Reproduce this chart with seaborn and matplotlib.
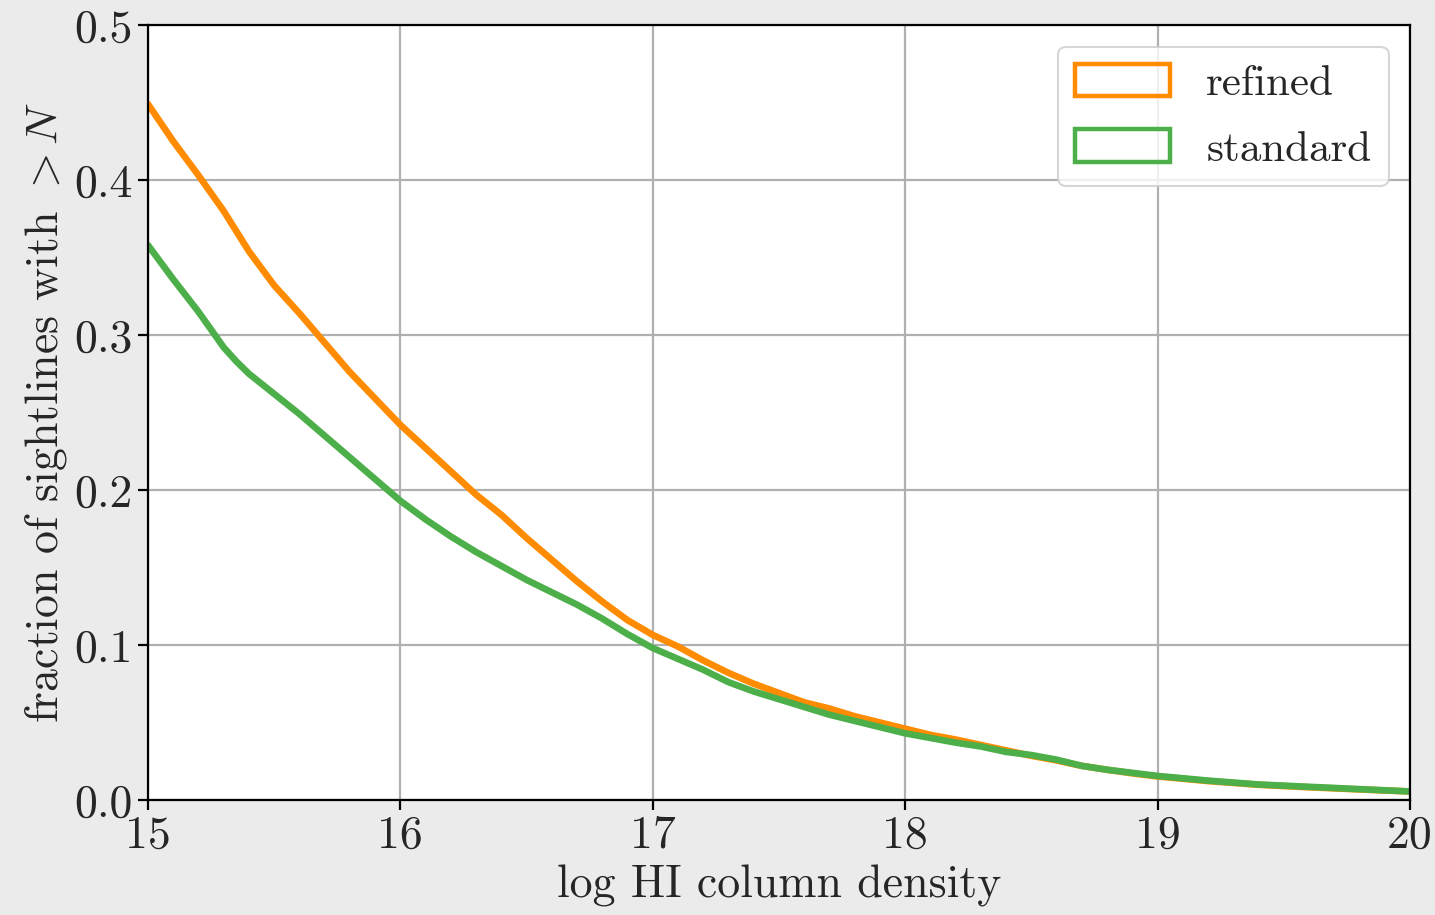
import numpy as np
import pandas as pd
import matplotlib
matplotlib.use("Agg")
import matplotlib.pyplot as plt
from matplotlib.patches import Patch
import seaborn as sns

# ---- data ----
logN = [15.0, 15.1, 15.2, 15.3, 15.35, 15.4, 15.5, 15.6, 15.7, 15.8, 15.9,
        16.0, 16.1, 16.2, 16.3, 16.4, 16.5, 16.6, 16.7, 16.8, 16.9,
        17.0, 17.1, 17.2, 17.3, 17.4, 17.5, 17.6, 17.7, 17.8, 17.9,
        18.0, 18.1, 18.2, 18.3, 18.4, 18.5, 18.6, 18.7, 18.8, 18.9,
        19.0, 19.2, 19.4, 19.6, 19.8, 20.0]
refined = [0.449, 0.425, 0.403, 0.380, 0.367, 0.354, 0.332, 0.314, 0.295, 0.276, 0.259,
           0.242, 0.227, 0.212, 0.197, 0.184, 0.169, 0.155, 0.141, 0.128, 0.116,
           0.1065, 0.099, 0.090, 0.082, 0.075, 0.069, 0.063, 0.059, 0.054, 0.050,
           0.046, 0.042, 0.039, 0.0355, 0.032, 0.0285, 0.0255, 0.022, 0.0195, 0.0172,
           0.0152, 0.0122, 0.0098, 0.0082, 0.0068, 0.0055]
standard = [0.358, 0.336, 0.315, 0.292, 0.283, 0.275, 0.262, 0.249, 0.235, 0.221, 0.207,
            0.193, 0.181, 0.170, 0.160, 0.151, 0.142, 0.134, 0.126, 0.117, 0.107,
            0.098, 0.091, 0.084, 0.076, 0.070, 0.065, 0.060, 0.055, 0.051, 0.047,
            0.043, 0.040, 0.037, 0.0345, 0.031, 0.029, 0.026, 0.022, 0.0195, 0.0175,
            0.0155, 0.0125, 0.010, 0.0085, 0.007, 0.0055]
series_names = ["refined", "standard"]
series_colors = ["#ff8c00", "#4daf4a"]
xticks = [15, 16, 17, 18, 19, 20]
yticks = [0.0, 0.1, 0.2, 0.3, 0.4, 0.5]

df = pd.concat([
    pd.DataFrame({"logN": logN, "frac": refined, "run": "refined"}),
    pd.DataFrame({"logN": logN, "frac": standard, "run": "standard"}),
])

sns.set_theme(style="whitegrid")
plt.rcParams["font.family"] = ["cmr10"]
plt.rcParams["mathtext.fontset"] = "cm"
plt.rcParams["axes.unicode_minus"] = False
plt.rcParams["axes.formatter.use_mathtext"] = True

fs = 33
fig = plt.figure(figsize=(14.35, 9.15), dpi=100, facecolor="#ebebeb")
ax = fig.add_axes([0.1031, 0.1257, 0.8795, 0.847])
ax.set_facecolor("white")

sns.lineplot(data=df, x="logN", y="frac", hue="run", palette=dict(zip(series_names, series_colors)),
             linewidth=4.8, ax=ax, legend=False, sort=True)

ax.set_xlim(15, 20)
ax.set_ylim(0, 0.5)
ax.set_xticks(xticks)
ax.set_yticks(yticks)
ax.set_xticklabels([str(t) for t in xticks])
ax.set_yticklabels([f"{t:.1f}" for t in yticks])
ax.grid(True, color="#b0b0b0", linewidth=1.6)
for s in ax.spines.values():
    s.set_color("black")
    s.set_linewidth(1.6)
ax.tick_params(axis="both", which="major", direction="out", length=7, width=1.6,
               color="black", labelsize=fs, pad=4, bottom=True, left=True)
ax.set_xlabel("log HI column density", fontsize=fs, labelpad=6)
ax.set_ylabel(r"fraction of sightlines with $>N$", fontsize=fs, labelpad=4)

handles = [Patch(facecolor="none", edgecolor=c, linewidth=3.2, label=n)
           for n, c in zip(series_names, series_colors)]
leg = ax.legend(handles=handles, loc="upper right", fontsize=31, frameon=True,
                handlelength=2.2, handleheight=0.77, borderpad=0.4, labelspacing=0.62,
                handletextpad=0.85, fancybox=True, framealpha=0.8, borderaxespad=0.5)
leg.get_frame().set_edgecolor("#cccccc")
leg.get_frame().set_linewidth(1.5)

fig.savefig("out.png", dpi=100, facecolor=fig.get_facecolor())
